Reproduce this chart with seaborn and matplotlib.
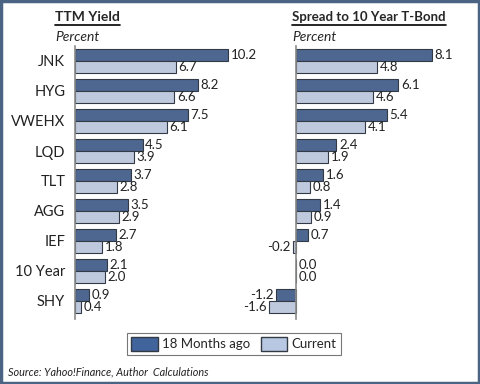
import matplotlib
matplotlib.use('Agg')
import matplotlib.pyplot as plt
import seaborn as sns
import pandas as pd
from matplotlib.patches import Rectangle, Patch
from matplotlib.lines import Line2D

funds = ["JNK", "HYG", "VWEHX", "LQD", "TLT", "AGG", "IEF", "10 Year", "SHY"]
periods = ["18 Months ago", "Current"]
yield_ago = [10.2, 8.2, 7.5, 4.5, 3.7, 3.5, 2.7, 2.1, 0.9]
yield_now = [6.7, 6.6, 6.1, 3.9, 2.8, 2.9, 1.8, 2.0, 0.4]
spread_ago = [8.1, 6.1, 5.4, 2.4, 1.6, 1.4, 0.7, 0.0, -1.2]
spread_now = [4.8, 4.6, 4.1, 1.9, 0.8, 0.9, -0.2, 0.0, -1.6]

dark = "#42649c"
light = "#b9c8e2"

sns.set_style("white")
plt.rcParams['font.family'] = ['Lato', 'DejaVu Sans']


def long_df(a, b):
    return pd.DataFrame({
        "fund": funds * 2,
        "period": [periods[0]] * len(funds) + [periods[1]] * len(funds),
        "value": a + b,
    })


fig = plt.figure(figsize=(4.8, 3.84), dpi=100)
ax1 = fig.add_axes([75 / 480, 1 - 319 / 384, 165 / 480, 273 / 384])
ax2 = fig.add_axes([266 / 480, 1 - 319 / 384, 181 / 480, 273 / 384])

for ax, (a, b), xlim in [(ax1, (yield_ago, yield_now), (0, 11)),
                         (ax2, (spread_ago, spread_now), (-1.8, 9))]:
    sns.barplot(data=long_df(a, b), x="value", y="fund", hue="period",
                orient="h", palette=[dark, light], width=0.8,
                edgecolor="#333a45", linewidth=0.8, legend=False, ax=ax)
    for c in ax.containers:
        ax.bar_label(c, fmt="%.1f", padding=2, fontsize=9.5, color="#222222")
    ax.set_xlim(*xlim)
    ax.set_ylim(8.6, -0.5)
    ax.set_xlabel("")
    ax.set_ylabel("")
    ax.xaxis.set_visible(False)
    for s in ["top", "right", "bottom"]:
        ax.spines[s].set_visible(False)
    ax.spines["left"].set_color("#8a8a8a")
    ax.spines["left"].set_linewidth(1.2)
    ax.tick_params(axis="y", length=0, labelsize=10.5, colors="#222222", pad=7)

ax2.spines["left"].set_position(("data", 0))
ax2.set_yticklabels([])

# titles
t1 = fig.text(55 / 480, 1 - 17 / 384, "TTM Yield", fontsize=10, fontweight="bold",
              va="center", ha="left")
t2 = fig.text(292 / 480, 1 - 17 / 384, "Spread to 10 Year T-Bond", fontsize=9.5,
              fontweight="bold", va="center", ha="left")
fig.text(55 / 480, 1 - 37 / 384, "Percent", fontsize=10, style="italic", va="center")
fig.text(292 / 480, 1 - 37 / 384, "Percent", fontsize=10, style="italic", va="center")

fig.canvas.draw()
r = fig.canvas.get_renderer()
for t in (t1, t2):
    bb = t.get_window_extent(r).transformed(fig.transFigure.inverted())
    fig.add_artist(Line2D([bb.x0, bb.x1], [bb.y0 - 0.004, bb.y0 - 0.004],
                          transform=fig.transFigure, color="black", lw=1.2))

handles = [Patch(facecolor=dark, edgecolor="#333a45"),
           Patch(facecolor=light, edgecolor="#333a45")]
leg = fig.legend(handles, periods, loc="center", bbox_to_anchor=(234 / 480, 1 - 344 / 384),
                 ncol=2, fontsize=9.5, frameon=True, fancybox=False, handlelength=2.0,
                 handleheight=1.3, columnspacing=0.8, handletextpad=0.35,
                 borderpad=0.3, borderaxespad=0)
leg.get_frame().set_edgecolor("#555555")
leg.get_frame().set_linewidth(0.8)

fig.text(8 / 480, 1 - 372 / 384, "Source: Yahoo!Finance, Author  Calculations",
         fontsize=7.8, style="italic", va="center", color="#222222")

fig.add_artist(Rectangle((0.002, 0.003), 0.996, 0.994, transform=fig.transFigure,
                         fill=False, edgecolor="#4b6484", linewidth=2.5))

fig.savefig("out.png", dpi=100)
